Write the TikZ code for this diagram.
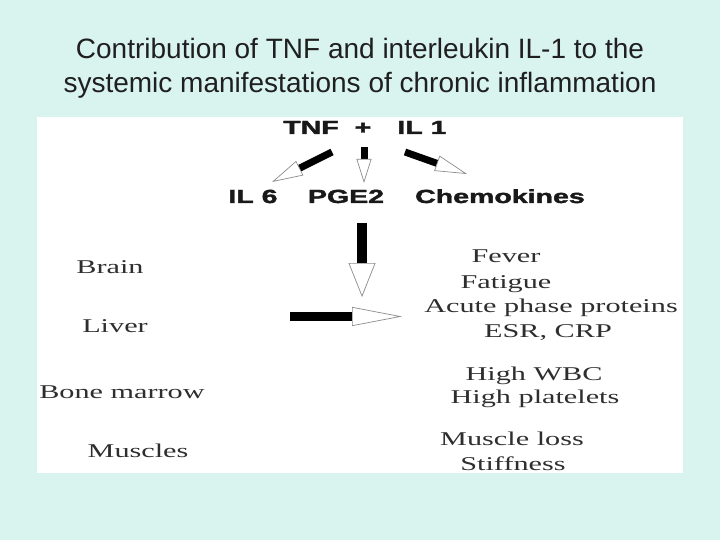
\documentclass[tikz,border=0pt]{standalone}
\usepackage{fontspec}
\setmainfont{Liberation Serif}
\setsansfont{Liberation Sans}
\newfontfamily\heavysans{Liberation Sans}[BoldFeatures={FakeBold=1.6}]
\usetikzlibrary{arrows.meta}
\definecolor{slidebg}{HTML}{D9F4EF}
\definecolor{organgray}{HTML}{2E2E2E}
\definecolor{headgray}{HTML}{8C8C8C}

\begin{document}
\begin{tikzpicture}[x=1pt, y=-1pt,
    title/.style={font=\sffamily\fontsize{28}{34}\selectfont, text=black!88, align=center},
    mediator/.style={font=\heavysans\bfseries\fontsize{19}{21}\selectfont, text=black!90, anchor=base, inner sep=0pt, xscale=1.5, transform shape},
    organ/.style={font=\fontsize{19.5}{22}\selectfont, text=organgray, anchor=base, inner sep=0pt, xscale=1.55, transform shape},
    fatarrow/.style args={#1/#2/#3}{line width=#1, black,
      -{Triangle[fill=white, color=headgray, line width=0.7pt, length=#2, width=#3]}}]
  % ---------- slide and picture area ----------
  \fill[slidebg] (0,0) rectangle (720,540);
  \fill[white] (37,117) rectangle (683,473);

  % ---------- title ----------
  \node[title] (heading) at (360,68) {Contribution of TNF and interleukin IL-1 to the\\
    systemic manifestations of chronic inflammation};

  % ---------- cytokines ----------
  \node[mediator] (tnf) at (311,134) {TNF};
  \node[mediator] (plus) at (363,134) {+};
  \node[mediator] (il1) at (422,134) {IL 1};
  \node[mediator] (il6) at (253,203) {IL 6};
  \node[mediator] (pge2) at (346,203) {PGE2};
  \node[mediator] (chemo) at (500,203) {Chemokines};

  % ---------- small arrows ----------
  \coordinate (ilsixFrom) at (332,152);
  \coordinate (ilsixTip) at (272,182);
  \coordinate (pgeFrom) at (364,147);
  \coordinate (pgeTip) at (364,183);
  \coordinate (chemoFrom) at (405,152);
  \coordinate (chemoTip) at (467,174);
  \draw[fatarrow=7pt/31pt/16pt] (ilsixFrom) -- (ilsixTip);
  \draw[fatarrow=7pt/24pt/15pt] (pgeFrom) -- (pgeTip);
  \draw[fatarrow=7pt/32pt/16pt] (chemoFrom) -- (chemoTip);

  % ---------- big arrows ----------
  \coordinate (downFrom) at (362,223);
  \coordinate (downTip) at (362,297);
  \coordinate (rightFrom) at (290,316.5);
  \coordinate (rightTip) at (402,316.5);
  \draw[fatarrow=10pt/34pt/27pt] (downFrom) -- (downTip);
  \draw[fatarrow=9pt/50pt/19pt] (rightFrom) -- (rightTip);

  % ---------- organs (left) ----------
  \node[organ] (brain) at (110,273) {Brain};
  \node[organ] (liver) at (115,332) {Liver};
  \node[organ] (marrow) at (122,398) {Bone marrow};
  \node[organ] (muscles) at (138,457) {Muscles};

  % ---------- manifestations (right) ----------
  \node[organ] (fever) at (506,262) {Fever};
  \node[organ] (fatigue) at (506,288) {Fatigue};
  \node[organ] (acute) at (551,312) {Acute phase proteins};
  \node[organ] (esr) at (548,337) {ESR, CRP};
  \node[organ] (wbc) at (534,380) {High WBC};
  \node[organ] (platelets) at (535,403) {High platelets};
  \node[organ] (loss) at (512,445) {Muscle loss};
  \node[organ] (stiff) at (513,470) {Stiffness};
\end{tikzpicture}
\end{document}
